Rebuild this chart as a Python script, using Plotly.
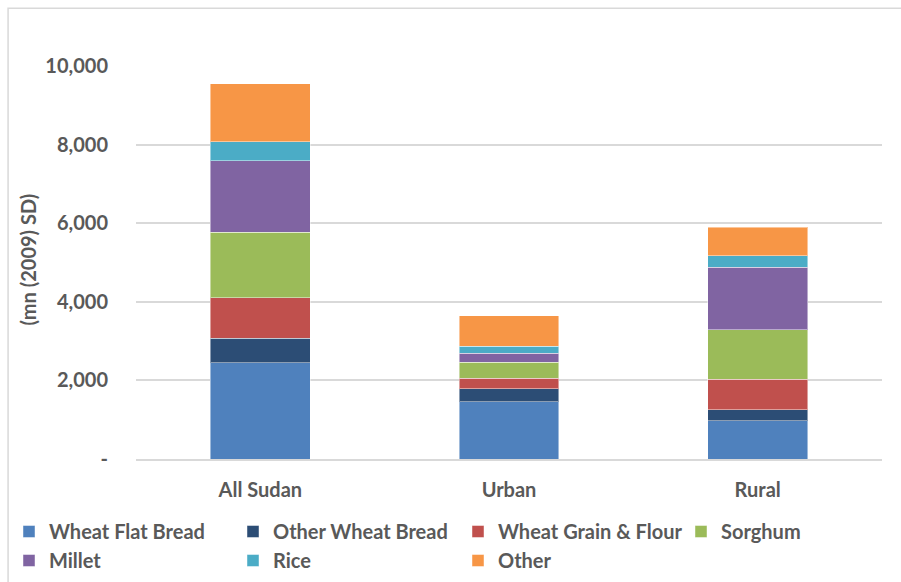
import plotly.graph_objects as go

categories = ["All Sudan", "Urban", "Rural"]
series_names = ["Wheat Flat Bread", "Other Wheat Bread", "Wheat Grain & Flour",
                "Sorghum", "Millet", "Rice", "Other"]
wheat_flat_bread = [2450, 1460, 970]
other_wheat_bread = [617, 323, 286]
wheat_grain_flour = [1041, 269, 769]
sorghum = [1659, 406, 1269]
millet = [1828, 238, 1584]
rice = [472, 178, 295]
other = [1482, 769, 720]
series_values = [wheat_flat_bread, other_wheat_bread, wheat_grain_flour,
                 sorghum, millet, rice, other]
colors = ["#4F81BD", "#2C4D75", "#C0504D", "#9BBB59", "#8064A2", "#4BACC6", "#F79646"]
y_tickvals = [0, 2000, 4000, 6000, 8000, 10000]
y_ticktext = ["-", "2,000", "4,000", "6,000", "8,000", "10,000"]

# legend column for each series (legend box layout of the reference: 4 columns x 2 rows)
legend_ids = ["legend", "legend2", "legend3", "legend4", "legend", "legend2", "legend3"]

FONT = "Lato"
TXT = "#595959"
FS = 20

fig = go.Figure()
for name, vals, col, lg in zip(series_names, series_values, colors, legend_ids):
    fig.add_trace(go.Bar(
        x=categories, y=vals, name=name, legend=lg,
        marker=dict(color=col, line=dict(color="rgba(255,255,255,0.45)", width=1)),
    ))

W, H = 901, 582
L, R, T, B = 135.5, 19, 65.5, 122.5
pw = W - L - R
ph = H - T - B


def px2x(px):
    return (px - L) / pw


def py2y(py):
    return (H - B - py) / ph


def legend_at(xpx):
    return dict(
        orientation="v", xref="container", yref="container",
        x=xpx / W, y=1 - 512 / H, xanchor="left", yanchor="top",
        font=dict(family=FONT, size=FS, color=TXT, weight="bold"),
        itemwidth=30, traceorder="normal", bgcolor="rgba(0,0,0,0)",
        tracegroupgap=0,
    )


bold = dict(family=FONT, size=FS, color=TXT, weight="bold")

fig.update_layout(
    width=W, height=H,
    margin=dict(l=L, r=R, t=T, b=B, autoexpand=False),
    barmode="stack", bargap=0.598,
    plot_bgcolor="white", paper_bgcolor="white",
    font=dict(family=FONT, color=TXT, size=FS),
    showlegend=True,
    legend=legend_at(9),
    legend2=legend_at(233),
    legend3=legend_at(458),
    legend4=legend_at(681),
    xaxis=dict(
        showgrid=False, showline=True, linecolor="#d9d9d9", linewidth=1.5,
        ticks="", ticklabelstandoff=12, tickfont=bold,
    ),
    yaxis=dict(
        range=[0, 10000], tickvals=y_tickvals, ticktext=y_ticktext,
        showgrid=True, gridcolor="#d9d9d9", gridwidth=1.5,
        zeroline=False, showline=False, ticks="", ticklabelstandoff=27,
        tickfont=bold,
    ),
    annotations=[dict(
        text="(mn (2009) SD)", textangle=-90,
        xref="paper", yref="paper", x=px2x(27), y=py2y(260),
        xanchor="center", yanchor="middle", showarrow=False,
        font=bold,
    )],
    shapes=[dict(
        type="rect", xref="paper", yref="paper",
        x0=px2x(7.5), x1=px2x(920), y0=py2y(7.5), y1=py2y(620),
        line=dict(color="#d9d9d9", width=1.5), fillcolor="rgba(0,0,0,0)",
        layer="below",
    )],
)

fig.write_html("out.html")
